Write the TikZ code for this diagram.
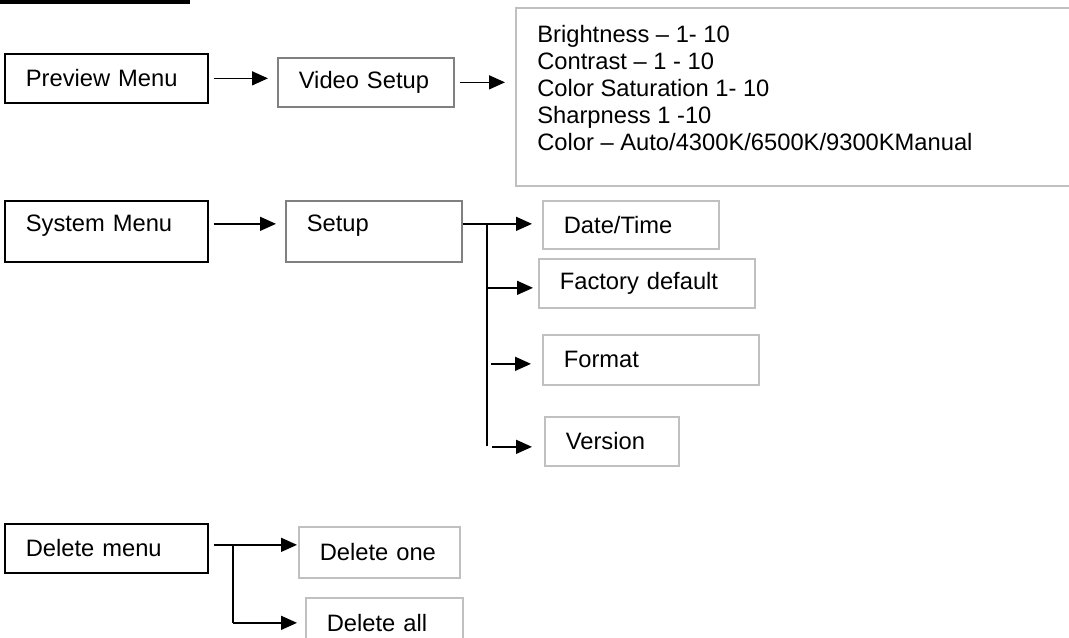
\documentclass[tikz,border=0pt]{standalone}
\usepackage{fontspec}
\setmainfont{Liberation Sans}
\usepackage{xcolor}
\usetikzlibrary{positioning,arrows.meta}
\definecolor{midgrey}{RGB}{128,128,128}
\definecolor{lightgrey}{RGB}{192,192,192}
\tikzset{
  menubox/.style={draw=black, line width=0.034cm, anchor=north west, align=left,
    inner xsep=0.42cm, inner ysep=0pt, font=\fontsize{13.5}{15.4}\selectfont},
  subbox/.style={menubox, draw=midgrey},
  leafbox/.style={menubox, draw=lightgrey},
  boxsize/.style 2 args={minimum width=#1, text width={#1-0.84cm}, minimum height=#2},
  link/.style={line width=0.03cm, -{Triangle[length=0.32cm,width=0.28cm]}},
  bus/.style={line width=0.03cm}
}

\begin{document}
\begin{tikzpicture}
\useasboundingbox (0,0) rectangle (21.38,-12.76);
\draw[line width=0.07cm] (0,-0.035) -- (3.8,-0.035); % heading underline
% Preview
\node[menubox, boxsize={4.06cm}{0.98cm}] (preview) at (0.08,-1.06) {Preview Menu};
\node[subbox, boxsize={3.52cm}{0.98cm}] (video) at (5.54,-1.14) {Video Setup};
\node[leafbox, minimum width=11.4cm, minimum height=3.56cm] (opts) at (10.30,-0.14) {};
\node[anchor=north west, inner sep=0pt, align=left, font=\fontsize{13.5}{15.4}\selectfont,
  below right = 0.36cm and 0.44cm of opts.north west] (optlist)
  {Brightness – 1- 10\\Contrast – 1 - 10\\Color Saturation 1- 10\\Sharpness 1 -10\\Color – Auto/4300K/6500K/9300KManual};
\draw[link, shorten <=0.1cm, shorten >=0.18cm] (preview.east) -- (preview.east -| video.west);
\draw[link, shorten <=0.1cm, shorten >=0.2cm] (video.east) -- (video.east -| opts.west);
% System
\node[menubox, boxsize={4.06cm}{1.22cm}, text depth=0.32cm] (system) at (0.08,-4.00) {System Menu};
\node[subbox, boxsize={3.52cm}{1.22cm}, text depth=0.32cm] (setup) at (5.70,-4.00) {Setup};
\node[leafbox, boxsize={3.52cm}{0.96cm}] (datetime) at (10.84,-4.00) {Date/Time};
\node[leafbox, boxsize={4.32cm}{0.98cm}] (factory) at (10.76,-5.16) {Factory default};
\node[leafbox, boxsize={4.32cm}{1.00cm}] (format) at (10.84,-6.68) {Format};
\node[leafbox, boxsize={2.68cm}{0.98cm}] (version) at (10.88,-8.32) {Version};
\draw[link, shorten <=0.1cm, shorten >=0.18cm] ([yshift=0.15cm]system.east) -- ([yshift=0.15cm]system.east -| setup.west);
\coordinate (bustop) at (9.74,-4.46);
\coordinate (busend) at (9.74,-8.92);
\draw[link, shorten >=0.2cm] ([yshift=0.15cm]setup.east) -- ([yshift=0.15cm]setup.east -| datetime.west);
\draw[bus] (bustop) -- (busend); % setup bus
\draw[link, shorten >=0.1cm] ([yshift=-0.09cm]factory.west -| bustop) -- ([yshift=-0.09cm]factory.west);
\draw[link, shorten <=0.08cm, shorten >=0.22cm] ([yshift=-0.08cm]format.west -| bustop) -- ([yshift=-0.08cm]format.west);
\draw[link, shorten <=0.1cm, shorten >=0.24cm] ([yshift=-0.11cm]version.west -| bustop) -- ([yshift=-0.11cm]version.west);
% Delete
\node[menubox, boxsize={4.06cm}{0.98cm}] (delmenu) at (0.08,-10.46) {Delete menu};
\node[leafbox, boxsize={3.22cm}{1.02cm}] (delone) at (5.96,-10.52) {Delete one};
\node[leafbox, boxsize={3.14cm}{1.00cm}] (delall) at (6.10,-11.94) {Delete all};
\draw[link, shorten <=0.1cm, shorten >=0.02cm] ([yshift=0.07cm]delmenu.east) -- ([yshift=0.07cm]delmenu.east -| delone.west);
\coordinate (dbus) at (4.66,-10.88);
\draw[bus] (dbus) -- (dbus |- delall.west); % delete bus
\draw[link, shorten >=0.16cm] (dbus |- delall.west) -- (delall.west);
\end{tikzpicture}
\end{document}
